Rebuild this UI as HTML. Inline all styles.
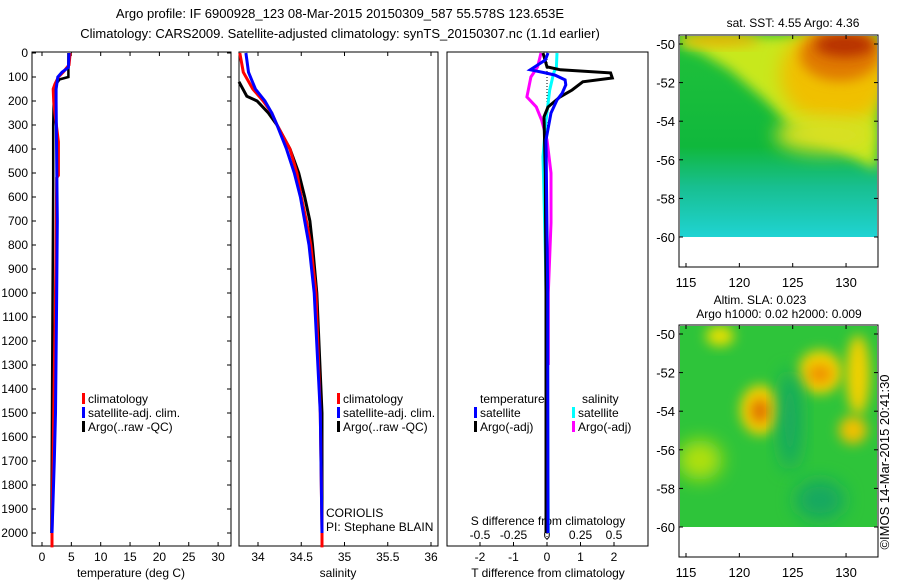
<!DOCTYPE html>
<html><head><meta charset="utf-8"><style>
body{margin:0;background:#fff;}
svg{display:block;font-family:"Liberation Sans",sans-serif;}
</style></head><body>
<svg id="c" width="900" height="580" viewBox="0 0 900 580">
<defs>
<filter id="bl" x="-50%" y="-50%" width="200%" height="200%"><feGaussianBlur stdDeviation="9"/></filter>
<filter id="bl2" x="-50%" y="-50%" width="200%" height="200%"><feGaussianBlur stdDeviation="6"/></filter>
<clipPath id="cm1"><rect x="680" y="36" width="197" height="201"/></clipPath>
<clipPath id="cm2"><rect x="680" y="326" width="197" height="201"/></clipPath>
<linearGradient id="sstg" x1="0" y1="0" x2="0" y2="1">
<stop offset="0" stop-color="#21c13a"/><stop offset="0.55" stop-color="#10b83c"/><stop offset="0.75" stop-color="#18bf90"/><stop offset="1" stop-color="#1fd3d3"/></linearGradient>
</defs>
<g id="plots"></g>
<!-- SST map -->
<g>
<g clip-path="url(#cm1)">
<rect x="680" y="36" width="197" height="201" fill="url(#sstg)"/>
<polygon points="680,36 877,36 877,170 820,140 790,125 765,100 730,70 700,52 680,46" fill="#c8e81a" filter="url(#bl2)"/>
<ellipse cx="835" cy="75" rx="55" ry="50" fill="#f0c000" filter="url(#bl)"/>
<ellipse cx="840" cy="55" rx="40" ry="26" fill="#e07a00" filter="url(#bl2)"/>
<ellipse cx="845" cy="45" rx="30" ry="12" fill="#b83000" filter="url(#bl2)"/>
<ellipse cx="720" cy="40" rx="40" ry="6" fill="#f0b000" filter="url(#bl2)"/>
<ellipse cx="825" cy="135" rx="50" ry="18" fill="#d8e020" filter="url(#bl)"/>
</g>
<rect x="679" y="35" width="199" height="232" fill="none" stroke="#000"/>
</g>
<!-- SLA map -->
<g>
<g clip-path="url(#cm2)">
<rect x="680" y="326" width="197" height="201" fill="#2ec43a"/>
<ellipse cx="760" cy="410" rx="20" ry="25" fill="#f0d000" filter="url(#bl2)"/>
<ellipse cx="760" cy="411" rx="9" ry="12" fill="#e07000" filter="url(#bl2)"/>
<ellipse cx="820" cy="372" rx="22" ry="22" fill="#f0d000" filter="url(#bl2)"/>
<ellipse cx="820" cy="374" rx="12" ry="9" fill="#f09000" filter="url(#bl2)"/>
<ellipse cx="858" cy="375" rx="12" ry="40" fill="#f0d000" filter="url(#bl2)"/>
<ellipse cx="853" cy="430" rx="14" ry="14" fill="#f0c000" filter="url(#bl2)"/>
<ellipse cx="720" cy="336" rx="14" ry="10" fill="#e8e000" filter="url(#bl2)"/>
<ellipse cx="700" cy="460" rx="22" ry="20" fill="#b0e010" filter="url(#bl)"/>
<ellipse cx="790" cy="420" rx="12" ry="50" fill="#18a860" filter="url(#bl)"/>
<ellipse cx="820" cy="500" rx="25" ry="20" fill="#18a860" filter="url(#bl)"/>
</g>
<rect x="679" y="325" width="199" height="232" fill="none" stroke="#000"/>
</g>
</svg>
<script>
// ---- data ----
const depthTicks=[0,100,200,300,400,500,600,700,800,900,1000,1100,1200,1300,1400,1500,1600,1700,1800,1900,2000];
const tempTicks=[0,5,10,15,20,25,30];
const salTicks=[34,34.5,35,35.5,36];
const tdiffTicks=[-2,-1,0,1,2];
const sdiffTicks=[-0.5,-0.25,0,0.25,0.5];
const latTicks=[-50,-52,-54,-56,-58,-60];
const lonTicks=[115,120,125,130];

const tClimD=[0,50,80,100,130,150,200,250,370,510,520,1000,1500,2000,2060];
const tClimV=[4.8,4.6,3.6,2.8,2.2,1.9,2.0,2.2,2.8,2.8,2.5,2.3,2.0,1.7,1.7];
const tSatD=[0,60,80,100,150,200,700,1000,1500,1700,2000];
const tSatV=[4.6,4.5,3.4,2.7,2.4,2.4,2.6,2.5,2.3,2.1,1.7];
const tArgoD=[0,100,110,130,150,200,300,550,1000,1500,2000];
const tArgoV=[4.5,4.5,3.0,2.4,2.2,2.0,1.9,1.9,1.8,1.7,1.6];

const sClimD=[0,80,150,200,250,300,400,500,600,700,800,1000,1500,2000,2060];
const sClimV=[33.79,33.83,33.94,34.06,34.16,34.22,34.37,34.45,34.5,34.56,34.61,34.67,34.72,34.74,34.74];
const sSatD=[0,80,150,200,250,300,400,500,600,700,800,1000,1500,2000];
const sSatV=[33.86,33.89,33.97,34.08,34.16,34.22,34.33,34.42,34.49,34.54,34.59,34.65,34.72,34.74];
const sArgoD=[120,180,200,250,300,400,500,600,700,800,1000,1500,2000];
const sArgoV=[33.78,33.87,33.99,34.12,34.22,34.37,34.47,34.54,34.6,34.63,34.68,34.74,34.74];

const dTArgoD=[0,58,70,83,104,120,154,183,225,266,500,1000,1500,2000];
const dTArgoV=[-0.12,0,0.4,1.9,1.95,1.07,0.75,0.39,0.03,-0.09,-0.05,-0.03,-0.03,-0.03];
const dTSatD=[0,29,70,83,92,112,133,168,196,250,362,1000,2000];
const dTSatV=[0.03,-0.05,-0.5,-0.05,0.24,0.54,0.56,0.45,0.3,0.12,-0.03,0.02,0.03];
const dSSatD=[0,58,83,154,292,433,529,900,1500,2000];
const dSSatV=[0.075,0.07,0.05,0.02,-0.01,-0.03,-0.025,-0.01,0.005,0.01];
const dSArgoD=[0,58,100,183,225,279,362,500,708,1000,1300];
const dSArgoV=[-0.045,-0.07,-0.12,-0.15,-0.08,-0.04,0,0.03,0.03,0.01,0.01];

// ---- scales ----
const NS='http://www.w3.org/2000/svg';
const root=document.getElementById('plots');
const yD=d=>53+d*0.24;
const xT=v=>42+v*5.87;
const xS=v=>258+(v-34)*86.5;
const xDT=v=>547+v*33.5;
const xDS=v=>547+v*134;
const yLat1=l=>44+(-50-l)*19.3;
const yLat2=l=>334+(-50-l)*19.3;
const xLon=l=>686+(l-115)*10.67;

function mk(tag,attrs,parent){const e=document.createElementNS(NS,tag);for(const k in attrs)e.setAttribute(k,attrs[k]);(parent||root).appendChild(e);return e;}
function txt(x,y,s,anchor,size,parent){const t=mk('text',{x:x,y:y,'font-size':size||12,'text-anchor':anchor||'start',fill:'#000'},parent);t.textContent=s;return t;}
function line(D,V,xf,color,w,name){
  const pts=D.map((d,i)=>xf(V[i]).toFixed(1)+','+yD(d).toFixed(1)).join(' ');
  const p=mk('polyline',{points:pts,fill:'none',stroke:color,'stroke-width':w||3});
  
  
}

// titles
let t=txt(340,18,'Argo profile: IF 6900928_123 08-Mar-2015 20150309_587 55.578S 123.653E','middle',13);


t=txt(340,38,'Climatology: CARS2009. Satellite-adjusted climatology: synTS_20150307.nc (1.1d earlier)','middle',13);



// frames
function frame(x0,x1,name){const r=mk('rect',{x:x0,y:52,width:x1-x0,height:494,fill:'none',stroke:'#000'});

}
frame(32,231,'temperature-panel');frame(239,438,'salinity-panel');frame(447,648,'difference-panel');

// depth axis
depthTicks.forEach(d=>{const y=yD(d);
  const l=txt(28,y+4,String(d),'end',12);
  
  
  mk('line',{x1:32,x2:36,y1:y,y2:y,stroke:'#000'});mk('line',{x1:227,x2:231,y1:y,y2:y,stroke:'#000'});
});
// x axes
function xax(ticks,xf,fmt,yl){ticks.forEach(v=>{const x=xf(v);mk('line',{x1:x,x2:x,y1:546,y2:542,stroke:'#000'});mk('line',{x1:x,x2:x,y1:52,y2:56,stroke:'#000'});
  const l=txt(x,yl,fmt(v),'middle',12);
  
  });}
xax(tempTicks,xT,String,561);xax(salTicks,xS,String,561);
tdiffTicks.forEach(v=>{const x=xDT(v);mk('line',{x1:x,x2:x,y1:546,y2:542,stroke:'#000'});
  const l=txt(x,561,String(v),'middle',12);
  
  });
sdiffTicks.forEach(v=>{const x=xDS(v);mk('line',{x1:x,x2:x,y1:546,y2:542,stroke:'#000'});
  const l=txt(x,539,String(v),'middle',12);
  
  });
[['temperature (deg C)',131],['salinity',338],['T difference from climatology',548]].forEach(a=>{const l=txt(a[1],577,a[0],'middle',12);
  
  });
t=txt(548,525,'S difference from climatology','middle',12);



// zero dotted line
mk('line',{x1:547,x2:547,y1:53,y2:540,stroke:'#000','stroke-dasharray':'1,2'});

// series
line(tArgoD,tArgoV,xT,'#000',2.5,'temp-argo-line');
line(tClimD,tClimV,xT,'#f00',3,'temp-climatology-line');
line(tSatD,tSatV,xT,'#00f',3,'temp-satellite-line');
line(sArgoD,sArgoV,xS,'#000',3,'sal-argo-line');
line(sClimD,sClimV,xS,'#f00',3,'sal-climatology-line');
line(sSatD,sSatV,xS,'#00f',3,'sal-satellite-line');
line(dSArgoD,dSArgoV,xDS,'#f0f',3,'sdiff-argo-line');
line(dSSatD,dSSatV,xDS,'#0ff',3,'sdiff-satellite-line');
line(dTArgoD,dTArgoV,xDT,'#000',3,'tdiff-argo-line');
line(dTSatD,dTSatV,xDT,'#00f',3,'tdiff-satellite-line');

// legends
function leg(x,y,color,label){if(color)mk('rect',{x:x,y:y-10,width:3,height:11,fill:color});
  const l=txt(x+6,y,label,'start',12);
  
  }
[[82,'climatology','#f00',403],[82,'satellite-adj. clim.','#00f',417],[82,'Argo(..raw -QC)','#000',431]].forEach(a=>leg(a[0],a[3],a[2],a[1]));
[[337,'climatology','#f00',403],[337,'satellite-adj. clim.','#00f',417],[337,'Argo(..raw -QC)','#000',431]].forEach(a=>leg(a[0],a[3],a[2],a[1]));
leg(474,417,'#00f','satellite');leg(474,431,'#000','Argo(-adj)');
leg(572,417,'#0ff','satellite');leg(572,431,'#f0f','Argo(-adj)');
t=txt(480,403,'temperature','start',12);


t=txt(582,403,'salinity','start',12);


t=txt(326,517,'CORIOLIS','start',12);


t=txt(326,531,'PI: Stephane BLAIN','start',12);



// map axes
const svg=document.getElementById('c');
function mapAx(yl,top){
  latTicks.forEach(l=>{const y=yl(l);mk('line',{x1:679,x2:683,y1:y,y2:y,stroke:'#000'},svg);mk('line',{x1:874,x2:878,y1:y,y2:y,stroke:'#000'},svg);
    const e=txt(675,y+5,String(l),'end',13,svg);
    
    });
  lonTicks.forEach(l=>{const x=xLon(l);mk('line',{x1:x,x2:x,y1:top,y2:top+4,stroke:'#000'},svg);mk('line',{x1:x,x2:x,y1:top+232,y2:top+228,stroke:'#000'},svg);
    const e=txt(x,top+252,String(l),'middle',13,svg);
    
    });
}
mapAx(yLat1,35);mapAx(yLat2,325);
t=txt(793,27,'sat. SST: 4.55 Argo: 4.36','middle',12,svg);


t=txt(760,304,'Altim. SLA: 0.023','middle',12,svg);


t=txt(779,318,'Argo h1000: 0.02 h2000: 0.009','middle',12,svg);


t=txt(0,0,'©IMOS 14-Mar-2015 20:41:30','middle',13,svg);
t.setAttribute('transform','translate(889,462) rotate(-90)');


</script>
</body></html>
